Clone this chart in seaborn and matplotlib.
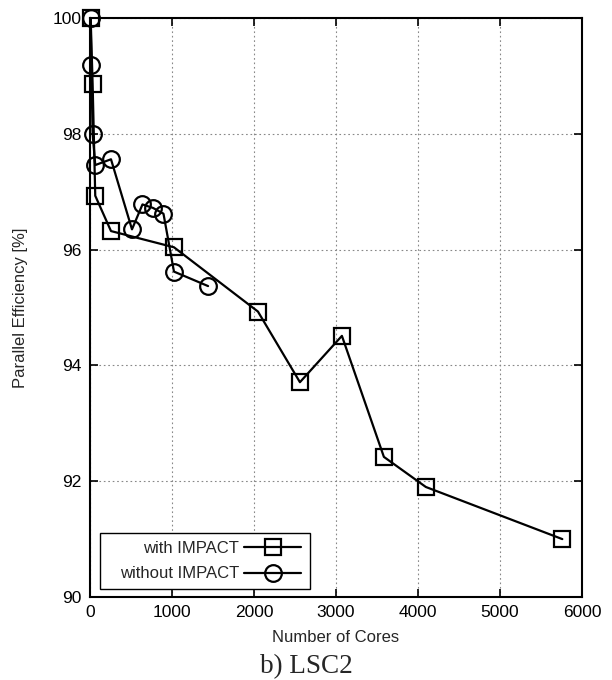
import matplotlib
matplotlib.use("Agg")
import matplotlib.pyplot as plt
from matplotlib.patches import Rectangle
import seaborn as sns
import pandas as pd

# Data
with_cores = [8, 32, 64, 256, 1024, 2048, 2560, 3072, 3584, 4096, 5760]
with_eff = [100.0, 98.86, 96.93, 96.32, 96.04, 94.93, 93.71, 94.51, 92.42, 91.90, 91.00]
without_cores = [8, 16, 32, 64, 256, 512, 640, 768, 896, 1024, 1440]
without_eff = [100.0, 99.18, 98.00, 97.46, 97.56, 96.35, 96.78, 96.72, 96.62, 95.62, 95.37]
x_ticks = [0, 1000, 2000, 3000, 4000, 5000, 6000]
y_ticks = [90, 92, 94, 96, 98, 100]
series_labels = ["with IMPACT", "without IMPACT"]

df_with = pd.DataFrame({"cores": with_cores, "eff": with_eff})
df_without = pd.DataFrame({"cores": without_cores, "eff": without_eff})

sns.set_style("ticks")
plt.rcParams["font.family"] = ["Liberation Sans", "DejaVu Sans"]

fig = plt.figure(figsize=(6.12, 6.8), dpi=100)
L, R, T, B = 90, 582, 18, 597
W = R - L
H = B - T
ax = fig.add_axes([L/612, 1-B/680, W/612, H/680])

common = dict(color="black", linewidth=1.6, markersize=12, clip_on=False,
              markerfacecolor="none", markeredgecolor="black", markeredgewidth=1.6)
sns.lineplot(data=df_with, x="cores", y="eff", ax=ax, marker="s",
             label=series_labels[0], sort=False, **common)
sns.lineplot(data=df_without, x="cores", y="eff", ax=ax, marker="o",
             label=series_labels[1], sort=False, **common)

ax.set_xlim(0, 6000)
ax.set_ylim(90, 100)
ax.set_xticks(x_ticks)
ax.set_yticks(y_ticks)
ax.grid(True, linestyle=(0, (1.5, 2.5)), color="#888888", linewidth=0.8)
ax.tick_params(direction="in", length=6, width=1.2, top=True, right=True,
               labelsize=12.5, colors="black", pad=6)
for s in ax.spines.values():
    s.set_linewidth(1.5)
    s.set_color("black")
    s.set_visible(True)

ax.set_xlabel("Number of Cores", fontsize=12, labelpad=7)
ax.set_ylabel("Parallel Efficiency [%]", fontsize=12, labelpad=18)

# legend frame drawn as a separate box (asymmetric padding like the reference)
box = Rectangle(((100-L)/W, (B-589)/H), (310-100)/W, (589-533)/H,
                transform=ax.transAxes, facecolor="white", edgecolor="black",
                linewidth=1.0, zorder=4, clip_on=False)
ax.add_patch(box)

leg = ax.legend(loc="center left",
                bbox_to_anchor=((120-L)/W, (B-561)/H),
                markerfirst=False, frameon=False, fontsize=12,
                handlelength=3.4, borderpad=0, labelspacing=0.65,
                borderaxespad=0, handletextpad=0.3)
leg.set_zorder(5)

fig.text(0.5, 1-667/680, "b) LSC2", ha="center", va="center", fontsize=19.5,
         family=["Liberation Serif", "DejaVu Serif"])

fig.savefig("out.png", dpi=100)
